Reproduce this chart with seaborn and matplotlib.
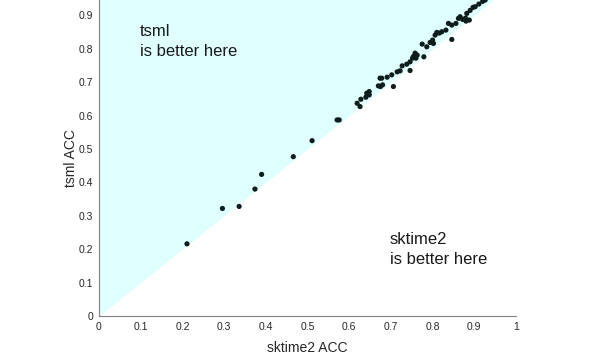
import seaborn as sns
import numpy as np
import pandas as pd
import matplotlib.pyplot as plt

# accuracies
sktime2_acc = [0.211, 0.296, 0.336, 0.374, 0.390, 0.466, 0.511, 0.571, 0.576,
               0.619, 0.626, 0.628, 0.640, 0.642, 0.648, 0.648, 0.670, 0.675,
               0.680, 0.674, 0.678, 0.691, 0.702, 0.706, 0.715, 0.722, 0.727,
               0.738, 0.746, 0.752, 0.746, 0.754, 0.758, 0.763, 0.760, 0.779,
               0.775, 0.786, 0.794, 0.800, 0.806, 0.810, 0.816, 0.822, 0.802,
               0.832, 0.846, 0.838, 0.846, 0.856, 0.862, 0.866, 0.872, 0.880,
               0.888, 0.879, 0.882, 0.890, 0.897, 0.902, 0.911, 0.920, 0.926]
tsml_acc = [0.216, 0.322, 0.328, 0.380, 0.424, 0.477, 0.525, 0.587, 0.587,
            0.637, 0.627, 0.649, 0.655, 0.667, 0.672, 0.662, 0.689, 0.687,
            0.692, 0.712, 0.712, 0.715, 0.722, 0.687, 0.731, 0.734, 0.749,
            0.754, 0.761, 0.772, 0.735, 0.777, 0.787, 0.781, 0.772, 0.776,
            0.814, 0.806, 0.819, 0.826, 0.841, 0.849, 0.847, 0.851, 0.816,
            0.856, 0.828, 0.876, 0.871, 0.876, 0.891, 0.896, 0.888, 0.883,
            0.886, 0.892, 0.906, 0.915, 0.924, 0.926, 0.934, 0.942, 0.946]

x_ticks = [0, 0.1, 0.2, 0.3, 0.4, 0.5, 0.6, 0.7, 0.8, 0.9, 1]
x_tick_labels = ['0', '0.1', '0.2', '0.3', '0.4', '0.5', '0.6', '0.7', '0.8', '0.9', '1']
y_ticks = [0, 0.1, 0.2, 0.3, 0.4, 0.5, 0.6, 0.7, 0.8, 0.9]
y_tick_labels = ['0', '0.1', '0.2', '0.3', '0.4', '0.5', '0.6', '0.7', '0.8', '0.9']

df = pd.DataFrame({'sktime2': sktime2_acc, 'tsml': tsml_acc})

sns.set_style('white')
plt.rcParams['font.family'] = ['Liberation Sans', 'DejaVu Sans']

fig = plt.figure(figsize=(5.98, 3.63), dpi=100)
ax = fig.add_axes([99 / 598, 47 / 363, 417 / 598, 316 / 363])

# shaded region where tsml wins
ax.fill_between([0, 1], [0, 1], [1, 1], color='#e0ffff', linewidth=0, zorder=0)

sns.scatterplot(data=df, x='sktime2', y='tsml', ax=ax, color='#0e1c1c',
                s=14, edgecolor='none', zorder=3)

ax.set_xlim(0, 1)
ax.set_ylim(0, 316 / 334)
ax.set_xticks(x_ticks)
ax.set_xticklabels(x_tick_labels)
ax.set_yticks(y_ticks)
ax.set_yticklabels(y_tick_labels)
ax.tick_params(direction='in', length=3, width=0.7, colors='#707070',
               labelcolor='#262626', labelsize=7.5, pad=4)

for side in ['top', 'right']:
    ax.spines[side].set_visible(False)
for side in ['left', 'bottom']:
    ax.spines[side].set_color('#808080')
    ax.spines[side].set_linewidth(0.8)

ax.set_xlabel('sktime2 ACC', fontsize=10, color='#262626', labelpad=7)
ax.set_ylabel('tsml ACC', fontsize=10, color='#262626', labelpad=1)

ax.text(0.098, 0.822, 'tsml\nis better here', fontsize=12, color='#1a1a1a',
        va='center', linespacing=1.45)
ax.text(0.698, 0.199, 'sktime2\nis better here', fontsize=12, color='#1a1a1a',
        va='center', linespacing=1.45)

fig.savefig('out.png', dpi=100)
